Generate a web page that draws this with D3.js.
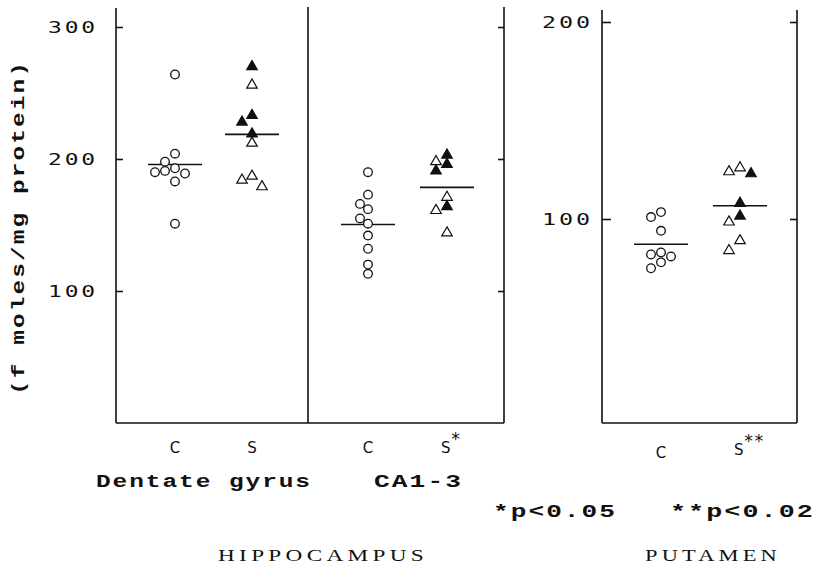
<!DOCTYPE html>
<html>
<head>
<meta charset="utf-8">
<script src="https://cdn.jsdelivr.net/npm/d3@7"></script>
<style>
  html, body { margin: 0; padding: 0; background: #fff; }
  svg { display: block; }
</style>
</head>
<body>
<svg id="chart" width="817" height="566"></svg>
<script>
// ---------------- DATA ----------------
// Hippocampus (f moles/mg protein)
const dentateControl      = [264, 204, 198, 193, 191, 190, 189, 183, 151];
const dentateControlSlot  = [0, 0, -1, 0, -1, -2, 1, 0, 0];
const dentateStress       = [270, 256, 233, 228, 219, 212, 187, 184, 179];
const dentateStressFilled = [1, 0, 1, 1, 1, 0, 0, 0, 0];
const dentateStressSlot   = [0, 0, 0, -1, 0, 0, 0, -1, 1];

const ca13Control      = [190, 173, 166, 162, 155, 151, 142, 132, 120, 113];
const ca13ControlSlot  = [0, 0, -1, 0, -1, 0, 0, 0, 0, 0];
const ca13Stress       = [203, 198, 196, 191, 171, 164, 161, 144];
const ca13StressFilled = [1, 0, 1, 1, 0, 1, 0, 0];
const ca13StressSlot   = [0, -1, 0, -1, 0, 0, -1, 0];

// Putamen
const putamenControl      = [103.5, 101, 94, 83, 82, 81, 78, 75];
const putamenControlSlot  = [0, -1, 0, 0, -1, 1, 0, -1];
const putamenStress       = [126, 124, 123, 108, 101.5, 98.5, 89, 84];
const putamenStressFilled = [0, 0, 1, 1, 1, 0, 0, 0];
const putamenStressSlot   = [0, -1, 1, 0, 0, -1, 0, -1];

const hippoTicks   = [100, 200, 300];
const putamenTicks = [100, 200];
const columnKeys   = ["dgC", "dgS", "caC", "caS", "puC", "puS"];
const columnLabels = ["C", "S", "C", "S", "C", "S"];
const columnMarks  = ["", "", "", "*", "", "**"];
const regionLabels = ["Dentate gyrus", "CA1-3"];
const panelTitles  = ["HIPPOCAMPUS", "PUTAMEN"];
const sigNotes     = ["*p<0.05", "**p<0.02"];
const yTitle       = "(f moles/mg protein)";

// ---------------- LAYOUT ----------------
const svg = d3.select("#chart");
const ink = "#111";
const bottomY = 423;

const xCol = d3.scaleOrdinal().domain(columnKeys).range([175, 252, 368, 447, 661, 740]);
const slotStep = d3.scaleOrdinal().domain(columnKeys).range([10, 10, 8, 11, 10, 11]);

const yHippo = d3.scaleLinear().domain([0, 300]).range([bottomY, 27]);
const yPut   = d3.scaleLinear().domain([100, 200]).range([219, 22]);

const hippo = { left: 116, right: 504, mid: 308, top: 8 };
const put   = { left: 602, right: 797, top: 10 };

const frame = svg.append("g").attr("stroke", ink).attr("stroke-width", 1.6).attr("fill", "none");
frame.append("line").attr("x1", hippo.left).attr("x2", hippo.left).attr("y1", hippo.top).attr("y2", bottomY);
frame.append("line").attr("x1", hippo.right).attr("x2", hippo.right).attr("y1", 7).attr("y2", bottomY);
frame.append("line").attr("x1", hippo.mid).attr("x2", hippo.mid).attr("y1", 7).attr("y2", bottomY);
frame.append("line").attr("x1", hippo.left).attr("x2", hippo.right).attr("y1", bottomY).attr("y2", bottomY);
frame.append("line").attr("x1", put.left).attr("x2", put.left).attr("y1", put.top).attr("y2", bottomY);
frame.append("line").attr("x1", put.right).attr("x2", put.right).attr("y1", put.top).attr("y2", bottomY);
frame.append("line").attr("x1", put.left).attr("x2", put.right).attr("y1", bottomY).attr("y2", bottomY);

function styleAxis(g) {
  g.select(".domain").remove();
  g.selectAll(".tick line").attr("stroke", ink).attr("stroke-width", 1.6);
  g.selectAll(".tick text").remove();
}
svg.append("g").attr("transform", `translate(${hippo.left},0)`)
  .call(d3.axisRight(yHippo).tickValues(hippoTicks).tickSize(7)).call(styleAxis);
svg.append("g").attr("transform", `translate(${hippo.right},0)`)
  .call(d3.axisLeft(yHippo).tickValues(hippoTicks).tickSize(6)).call(styleAxis);
svg.append("g").attr("transform", `translate(${put.left},0)`)
  .call(d3.axisRight(yPut).tickValues(putamenTicks).tickSize(9)).call(styleAxis);
svg.append("g").attr("transform", `translate(${put.right},0)`)
  .call(d3.axisLeft(yPut).tickValues(putamenTicks).tickSize(7)).call(styleAxis);

// stretched, lightly spaced text helper (wide typewriter look)
function wideText(parent, str, x, y, len, opts) {
  return parent.append("text")
    .attr("x", x).attr("y", y)
    .attr("font-family", opts.family).attr("font-size", opts.size)
    .attr("font-weight", opts.weight || "normal")
    .attr("letter-spacing", opts.spacing || 0)
    .attr("fill", ink)
    .attr("textLength", len).attr("lengthAdjust", "spacingAndGlyphs")
    .text(str);
}

// tick labels
const tickOpts = { family: "'DejaVu Sans Mono', monospace", size: 16, spacing: 2 };
hippoTicks.forEach(t => wideText(svg, t, 48, yHippo(t) + 6, 50, tickOpts));
putamenTicks.forEach(t => wideText(svg, t, 542, yPut(t) + 6, 51, tickOpts));

// y title
svg.append("g").attr("transform", "translate(24,395) rotate(-90)")
  .call(g => wideText(g, yTitle, 0, 0, 335,
    { family: "'Liberation Mono', monospace", size: 18, weight: "bold", spacing: 1.5 }));

// ---------------- MARKS ----------------
const groups = [
  { key: "dgC", y: yHippo, vals: dentateControl, slot: dentateControlSlot, shape: "circle" },
  { key: "dgS", y: yHippo, vals: dentateStress, slot: dentateStressSlot, fill: dentateStressFilled, shape: "tri" },
  { key: "caC", y: yHippo, vals: ca13Control, slot: ca13ControlSlot, shape: "circle" },
  { key: "caS", y: yHippo, vals: ca13Stress, slot: ca13StressSlot, fill: ca13StressFilled, shape: "tri" },
  { key: "puC", y: yPut, vals: putamenControl, slot: putamenControlSlot, shape: "circle" },
  { key: "puS", y: yPut, vals: putamenStress, slot: putamenStressSlot, fill: putamenStressFilled, shape: "tri" }
];

svg.append("g").selectAll("line").data(groups).join("line")
  .attr("x1", g => xCol(g.key) - 27).attr("x2", g => xCol(g.key) + 27)
  .attr("y1", g => g.y(d3.mean(g.vals))).attr("y2", g => g.y(d3.mean(g.vals)))
  .attr("stroke", ink).attr("stroke-width", 1.6);

const tri = d3.symbol().type(d3.symbolTriangle).size(48);
groups.forEach(g => {
  const pts = g.vals.map((v, i) => ({
    x: xCol(g.key) + g.slot[i] * slotStep(g.key),
    y: g.y(v),
    filled: g.fill ? g.fill[i] : 0
  }));
  const layer = svg.append("g");
  if (g.shape === "circle") {
    layer.selectAll("circle").data(pts).join("circle")
      .attr("cx", d => d.x).attr("cy", d => d.y).attr("r", 4.3)
      .attr("fill", "#fff").attr("stroke", ink).attr("stroke-width", 1.3);
  } else {
    layer.selectAll("path").data(pts).join("path")
      .attr("d", tri).attr("transform", d => `translate(${d.x},${d.y})`)
      .attr("fill", d => d.filled ? ink : "#fff")
      .attr("stroke", ink).attr("stroke-width", 1.2);
  }
});

// ---------------- TEXT ----------------
const labelY = [453, 453, 453, 453, 458, 455];
const catG = svg.append("g")
  .attr("font-family", "'DejaVu Sans', sans-serif").attr("font-size", 15).attr("fill", ink);
columnKeys.forEach((k, i) => {
  const t = catG.append("text").attr("x", xCol(k)).attr("y", labelY[i]).attr("text-anchor", columnMarks[i] ? "start" : "middle");
  if (columnMarks[i]) t.attr("x", xCol(k) - 6);
  t.append("tspan").text(columnLabels[i]);
  if (columnMarks[i]) {
    t.append("tspan").attr("dy", -8).attr("font-size", 17)
      .attr("font-family", "'DejaVu Sans Mono', monospace").text(columnMarks[i]);
  }
});

const boldOpts = { family: "'Liberation Mono', monospace", size: 19, weight: "bold", spacing: 1.5 };
wideText(svg, regionLabels[0], 96, 487, 216, boldOpts);
wideText(svg, regionLabels[1], 374, 487, 89, boldOpts);
wideText(svg, sigNotes[0], 493, 517, 124, boldOpts);
wideText(svg, sigNotes[1], 670, 517, 145, boldOpts);

const titleOpts = { family: "'Liberation Serif', serif", size: 16, spacing: 3 };
wideText(svg, panelTitles[0], 218, 561, 210, titleOpts);
wideText(svg, panelTitles[1], 645, 561, 136, titleOpts);
</script>
</body>
</html>
